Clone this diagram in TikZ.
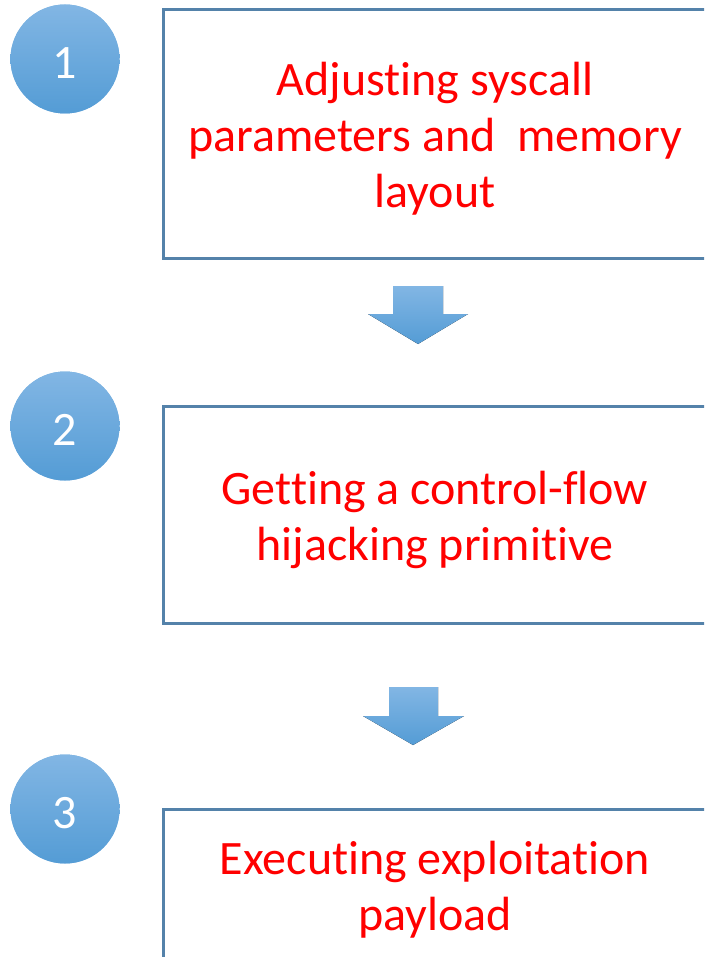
\documentclass[tikz,border=0pt]{standalone}
\usepackage{fontspec}
\setmainfont{Carlito}[Ligatures={NoCommon,NoContextual}]
\definecolor{boxline}{RGB}{84,130,170}
\definecolor{discTop}{RGB}{130,182,228}
\definecolor{discBot}{RGB}{84,156,213}
\definecolor{discMid}{RGB}{106,169,221}
\definecolor{txtred}{RGB}{255,0,0}
\tikzset{
  stepframe/.style={draw=boxline, line width=3pt, rectangle, inner sep=0pt},
  steptext/.style={text=txtred, align=center, inner sep=0pt, anchor=base,
                   font=\fontsize{48}{56}\selectfont},
  numdisk/.style={circle, minimum size=109pt, inner sep=0pt, draw=none,
                  fill=discMid, top color=discTop, bottom color=discBot},
  numtext/.style={text=white, inner sep=0pt, font=\fontsize{48}{50}\selectfont},
  downarrow/.style={top color=discTop, bottom color=discBot, draw=none}
}
\begin{document}
\begin{tikzpicture}[x=1pt, y=-1pt]
  \clip (0,0) rectangle (704,957);
  \fill[white] (0,0) rectangle (704,957);

  % step frames (they run past the right / bottom edge)
  \node[stepframe, minimum width=546pt, minimum height=249.5pt] (b1) at (436.5,134.25) {};
  \node[stepframe, minimum width=546pt, minimum height=217pt] (b2) at (436.5,515) {};
  \node[stepframe, minimum width=546pt, minimum height=240pt] (b3) at (436.5,929.5) {};

  % step texts, placed by the baseline of their last line
  \node[steptext] (t1) at (435,208) {Adjusting syscall\\parameters and\ \ memory\\layout};
  \node[steptext] (t2) at (435,560) {Getting a control-flow\\hijacking primitive};
  \node[steptext] (t3) at (435,930) {Executing exploitation\\payload};

  % numbered discs
  \node[numdisk] (c1) at (65,59) {};
  \node[numdisk] (c2) at (65,426) {};
  \node[numdisk] (c3) at (65,809) {};
  \node[numtext] (n1) at ([yshift=-4pt]c1.center) {1};
  \node[numtext] (n2) at ([yshift=-4pt]c2.center) {2};
  \node[numtext] (n3) at ([yshift=-4pt]c3.center) {3};

  % block arrows between the steps
  \fill[downarrow] (393,286) -- (443,286) -- (443,314) -- (468,314)
    -- (418,344) -- (368,314) -- (393,314) -- cycle;
  \fill[downarrow] (389,687) -- (438,687) -- (438,716) -- (464,716)
    -- (413,745) -- (363,716) -- (389,716) -- cycle;
\end{tikzpicture}
\end{document}
